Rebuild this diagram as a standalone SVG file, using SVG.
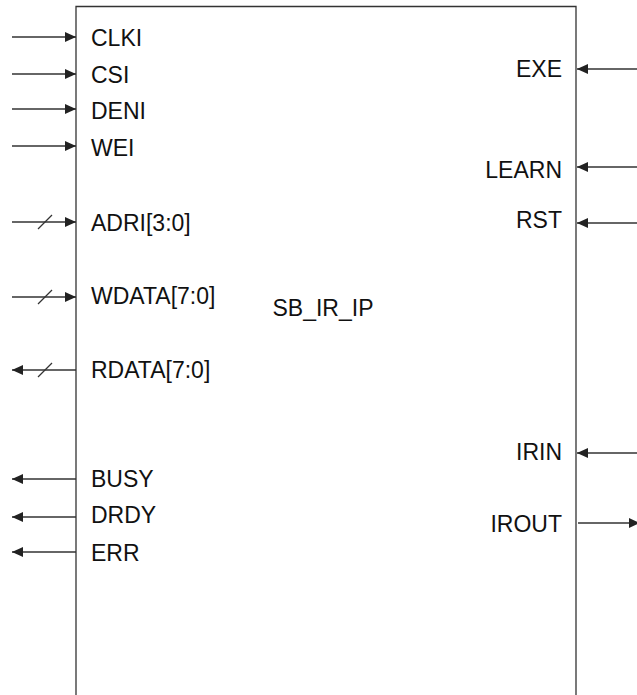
<svg xmlns="http://www.w3.org/2000/svg" width="637" height="695" viewBox="0 0 637 695">
<style>
.w{stroke:#333;stroke-width:1.3;fill:none}
.t{font-family:"Liberation Sans",Arial,sans-serif;font-size:23px;fill:#111}
.r{text-anchor:end}
</style>
<defs>
<marker id="ah" markerUnits="userSpaceOnUse" markerWidth="12" markerHeight="11" refX="11" refY="5" orient="auto">
<path d="M0,0 L11,5 L0,10 z" fill="#222"/>
</marker>
</defs>
<rect x="0" y="0" width="637" height="695" fill="#fff"/>
<g id="block">
<path class="w" d="M76,696 V6.5 H576 V696"/>
<text class="t" x="323" y="316" text-anchor="middle">SB_IR_IP</text>
</g>
<g id="connectors">
<line class="w" x1="12" y1="37" x2="76" y2="37" marker-end="url(#ah)"/>
<line class="w" x1="12" y1="74" x2="76" y2="74" marker-end="url(#ah)"/>
<line class="w" x1="12" y1="109" x2="76" y2="109" marker-end="url(#ah)"/>
<line class="w" x1="12" y1="146" x2="76" y2="146" marker-end="url(#ah)"/>
<line class="w" x1="12" y1="222" x2="76" y2="222" marker-end="url(#ah)"/>
<line class="w" x1="38" y1="229" x2="52" y2="215"/>
<line class="w" x1="12" y1="297" x2="76" y2="297" marker-end="url(#ah)"/>
<line class="w" x1="38" y1="304" x2="52" y2="290"/>
<line class="w" x1="76" y1="370" x2="12" y2="370" marker-end="url(#ah)"/>
<line class="w" x1="38" y1="377" x2="52" y2="363"/>
<line class="w" x1="76" y1="479" x2="12" y2="479" marker-end="url(#ah)"/>
<line class="w" x1="76" y1="517" x2="12" y2="517" marker-end="url(#ah)"/>
<line class="w" x1="76" y1="552" x2="12" y2="552" marker-end="url(#ah)"/>
<line class="w" x1="637" y1="69" x2="577" y2="69" marker-end="url(#ah)"/>
<line class="w" x1="637" y1="167" x2="577" y2="167" marker-end="url(#ah)"/>
<line class="w" x1="637" y1="223" x2="577" y2="223" marker-end="url(#ah)"/>
<line class="w" x1="637" y1="453" x2="577" y2="453" marker-end="url(#ah)"/>
<line class="w" x1="578" y1="523" x2="640" y2="523" marker-end="url(#ah)"/>
</g>
<g id="port-CLKI"><text class="t" x="91" y="46">CLKI</text></g>
<g id="port-CSI"><text class="t" x="91" y="83">CSI</text></g>
<g id="port-DENI"><text class="t" x="91" y="119">DENI</text></g>
<g id="port-WEI"><text class="t" x="91" y="156">WEI</text></g>
<g id="port-ADRI"><text class="t" x="91" y="231">ADRI[3:0]</text></g>
<g id="port-WDATA"><text class="t" x="91" y="304">WDATA[7:0]</text></g>
<g id="port-RDATA"><text class="t" x="91" y="378">RDATA[7:0]</text></g>
<g id="port-BUSY"><text class="t" x="91" y="487">BUSY</text></g>
<g id="port-DRDY"><text class="t" x="91" y="523">DRDY</text></g>
<g id="port-ERR"><text class="t" x="91" y="561">ERR</text></g>
<g id="port-EXE"><text class="t r" x="562" y="77">EXE</text></g>
<g id="port-LEARN"><text class="t r" x="562" y="178">LEARN</text></g>
<g id="port-RST"><text class="t r" x="562" y="228">RST</text></g>
<g id="port-IRIN"><text class="t r" x="562" y="460">IRIN</text></g>
<g id="port-IROUT"><text class="t r" x="562" y="532">IROUT</text></g>
</svg>
